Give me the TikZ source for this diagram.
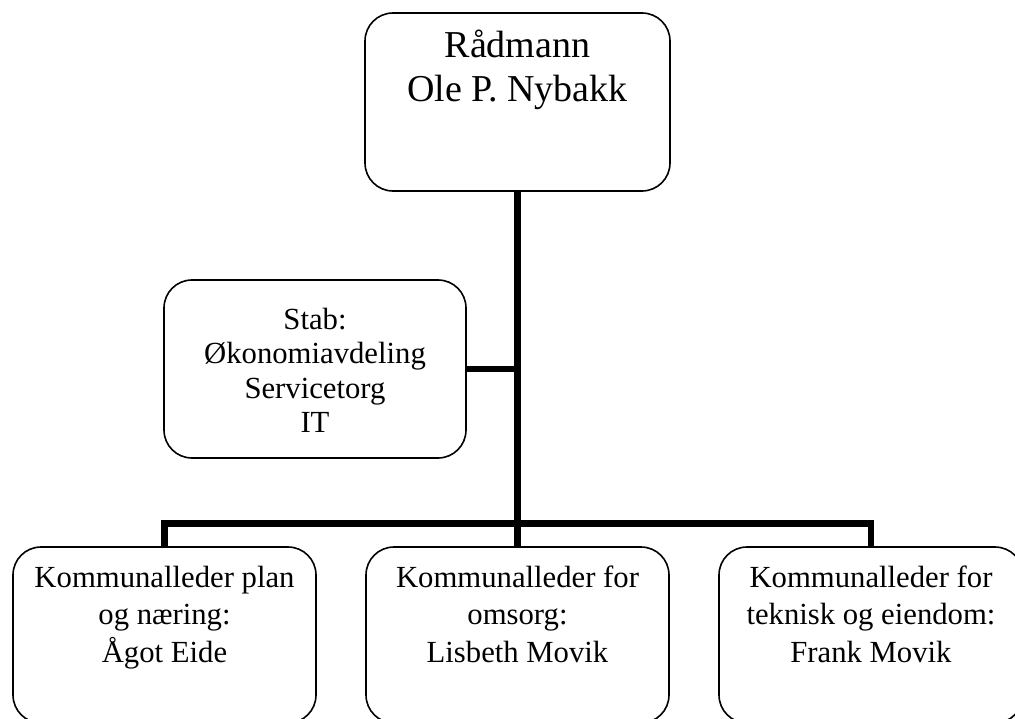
\documentclass[tikz,border=0pt]{standalone}
\usepackage{fontspec}
\setmainfont{Liberation Serif}
\tikzset{
  orgnode/.style={draw=black, line width=1.6bp, rounded corners=28bp, inner sep=0pt, outer sep=0pt, fill=white},
  link/.style={draw=black, line width=6.5bp, line join=miter, line cap=butt}
}
\begin{document}
\begin{tikzpicture}[x=1bp,y=-1bp]
\useasboundingbox (0,0) rectangle (1015,719);
\fill[white] (0,0) rectangle (1015,719);
% boxes
\node[orgnode] (top) at (517.5,102) {\parbox[c][178bp][t]{305bp}{\centering\fontsize{38bp}{44bp}\selectfont\rule{0pt}{45bp}Rådmann\\Ole P. Nybakk}};
\node[orgnode] (stab) at (315,369) {\parbox[c][178bp][t]{302bp}{\centering\fontsize{30.7bp}{34.5bp}\selectfont\rule{0pt}{49bp}Stab:\\Økonomiavdeling\\Servicetorg\\IT}};
\node[orgnode] (left) at (164.5,635) {\parbox[c][176bp][t]{303bp}{\centering\fontsize{30.7bp}{37.5bp}\selectfont\rule{0pt}{40bp}Kommunalleder plan\\og næring:\\Ågot Eide}};
\node[orgnode] (mid) at (517.5,635) {\parbox[c][176bp][t]{303bp}{\centering\fontsize{30.7bp}{37.5bp}\selectfont\rule{0pt}{40bp}Kommunalleder for\\omsorg:\\Lisbeth Movik}};
\node[orgnode] (right) at (871,635) {\parbox[c][176bp][t]{304bp}{\centering\fontsize{30.7bp}{37.5bp}\selectfont\rule{0pt}{40bp}Kommunalleder for\\teknisk og eiendom:\\Frank Movik}};
% connectors
\coordinate (bar) at (517.5,523.5);
\draw[link] (top.south) -- (mid.north);
\draw[link] (stab.east) -- (stab.east -| top.south);
\draw[link] (left.north) |- (bar) -| (right.north);
\end{tikzpicture}
\end{document}
